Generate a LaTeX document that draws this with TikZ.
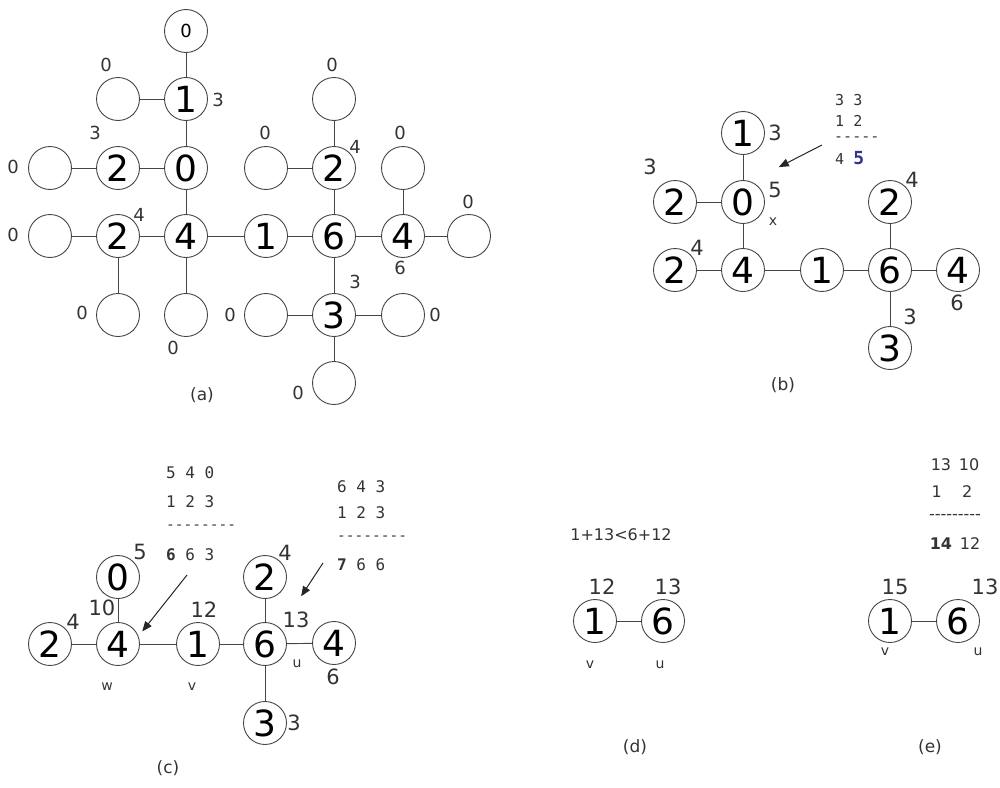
\documentclass[tikz,border=0pt]{standalone}
\usepackage{fontspec}
\setmainfont{DejaVu Sans}
\setmonofont{DejaVu Sans Mono}
\usetikzlibrary{arrows.meta}
\definecolor{edgegray}{RGB}{70,70,70}
\definecolor{calcblue}{RGB}{50,50,140}
\tikzset{
  nd/.style={circle,draw=edgegray,line width=0.9pt,minimum size=43pt,inner sep=0pt,
     font=\fontsize{36}{36}\selectfont},
  sm/.style={circle,draw=edgegray,line width=0.9pt,minimum size=43pt,inner sep=0pt,
     font=\fontsize{18}{18}\selectfont},
  ed/.style={draw=edgegray,line width=0.9pt},
  lbl/.style={inner sep=0pt,text=black!80,font=\fontsize{18}{18}\selectfont},
  lblb/.style={inner sep=0pt,text=black!80,font=\fontsize{21}{21}\selectfont},
  tiny/.style={inner sep=0pt,text=black!80,font=\fontsize{14}{14}\selectfont},
  captxt/.style={inner sep=0pt,text=black!80,font=\fontsize{17}{17}\selectfont},
  calc/.style={inner sep=0pt,anchor=west,text=black!80,font=\ttfamily\fontsize{16}{16}\selectfont},
  calcs/.style={inner sep=0pt,text=black!80,font=\fontsize{16}{16}\selectfont},
  arr/.style={draw=black!85,line width=1pt,-{Triangle[length=10pt,width=8pt]},shorten >=2pt}
}
\begin{document}
\begin{tikzpicture}[x=1pt,y=-1pt]
\useasboundingbox (0,0) rectangle (1000,787);
% ---------------- (a)
\node[sm] (a0t) at (186,31) {0};
\node[nd] (a1) at (186,99) {1};
\node[sm] (ae1) at (118,99) {};
\node[nd] (a0) at (186,168) {0};
\node[nd] (a2a) at (118,168) {2};
\node[sm] (ae2) at (50,168) {};
\node[nd] (a4) at (186,236) {4};
\node[nd] (a2b) at (118,236) {2};
\node[sm] (ae3) at (50,236) {};
\node[sm] (ae4) at (118,315) {};
\node[sm] (ae5) at (186,315) {};
\node[nd] (a1c) at (266,236) {1};
\node[nd] (a6) at (334,236) {6};
\node[nd] (a2c) at (334,168) {2};
\node[sm] (ae6) at (334,99) {};
\node[sm] (ae7) at (266,168) {};
\node[nd] (a4r) at (403,236) {4};
\node[sm] (ae8) at (403,168) {};
\node[sm] (ae9) at (469,236) {};
\node[nd] (a3) at (334,315) {3};
\node[sm] (ae10) at (266,315) {};
\node[sm] (ae11) at (403,315) {};
\node[sm] (ae12) at (334,383) {};
\foreach \u/\v in {a0t/a1,ae1/a1,a1/a0,ae2/a2a,a2a/a0,a0/a4,ae3/a2b,a2b/a4,a2b/ae4,a4/ae5,
  a4/a1c,a1c/a6,a6/a2c,a2c/ae6,ae7/a2c,a6/a4r,a4r/ae8,a4r/ae9,a6/a3,ae10/a3,a3/ae11,a3/ae12}
  \draw[ed] (\u) -- (\v);
\node[lbl] (la1) at (106,65) {0};
\node[lbl] (la2) at (218,100) {3};
\node[lbl] (la3) at (95,133) {3};
\node[lbl] (la4) at (13,167) {0};
\node[lbl] (la5) at (265,133) {0};
\node[lbl] (la6) at (332,65) {0};
\node[lbl] (la7) at (355,147) {4};
\node[lbl] (la8) at (400,133) {0};
\node[lbl] (la9) at (468,202) {0};
\node[lbl] (la10) at (139,215) {4};
\node[lbl] (la11) at (13,235) {0};
\node[lbl] (la12) at (400,268) {6};
\node[lbl] (la13) at (355,282) {3};
\node[lbl] (la14) at (82,313) {0};
\node[lbl] (la15) at (173,348) {0};
\node[lbl] (la16) at (230,315) {0};
\node[lbl] (la17) at (435,315) {0};
\node[lbl] (la18) at (298,393) {0};
\node[captxt] (capa) at (202,395) {(a)};
% ---------------- (b)
\node[nd] (b1) at (743,133) {1};
\node[nd] (b0) at (743,202) {0};
\node[nd] (b2a) at (675,202) {2};
\node[nd] (b4) at (743,270) {4};
\node[nd] (b2b) at (675,270) {2};
\node[nd] (b1c) at (822,270) {1};
\node[nd] (b6) at (890,270) {6};
\node[nd] (b2c) at (890,202) {2};
\node[nd] (b4r) at (958,270) {4};
\node[nd] (b3) at (890,348) {3};
\foreach \u/\v in {b1/b0,b2a/b0,b0/b4,b2b/b4,b4/b1c,b1c/b6,b6/b2c,b6/b4r,b6/b3}
  \draw[ed] (\u) -- (\v);
\node[lblb] (lb1) at (775,133) {3};
\node[lblb] (lb2) at (650,167) {3};
\node[lblb] (lb3) at (775,190) {5};
\node[tiny] (lbx) at (773,222) {x};
\node[lblb] (lb4) at (697,248) {4};
\node[lblb] (lb5) at (912,180) {4};
\node[lblb] (lb6) at (957,303) {6};
\node[lblb] (lb7) at (910,317) {3};
\node[captxt] (capb) at (783,385) {(b)};
\node[calc,font=\ttfamily\fontsize{15}{15}\selectfont] (bc1) at (835,100) {3 3};
\node[calc,font=\ttfamily\fontsize{15}{15}\selectfont] (bc2) at (835,121) {1 2};
\node[calc,font=\ttfamily\fontsize{15}{15}\selectfont] (bc3) at (834,139) {-----};
\node[calc,font=\ttfamily\fontsize{15}{15}\selectfont] (bc4) at (835,158) {4 \textcolor{calcblue}{\fontsize{18}{18}\selectfont\bfseries 5}};
\coordinate (bas) at (822,145);
\coordinate (bae) at (777,168);
\draw[arr] (bas) -- (bae);
% ---------------- (c)
\node[nd] (c0) at (118,577) {0};
\node[nd] (c4) at (118,644) {4};
\node[nd] (c2a) at (50,644) {2};
\node[nd] (c1) at (198,644) {1};
\node[nd] (c6) at (265,644) {6};
\node[nd] (c2b) at (265,577) {2};
\node[nd] (c3) at (265,723) {3};
\node[nd] (c4r) at (334,643) {4};
\foreach \u/\v in {c0/c4,c2a/c4,c4/c1,c1/c6,c6/c2b,c6/c3,c6/c4r}
  \draw[ed] (\u) -- (\v);
\node[lblb] (lc1) at (140,552) {5};
\node[lblb] (lc2) at (102,608) {10};
\node[lblb] (lc3) at (73,622) {4};
\node[lblb] (lc4) at (204,610) {12};
\node[lblb] (lc5) at (285,553) {4};
\node[lblb] (lc6) at (296,620) {13};
\node[tiny] (lcu) at (297,664) {u};
\node[lblb] (lc7) at (333,677) {6};
\node[lblb] (lc8) at (294,723) {3};
\node[tiny] (lcw) at (107,687) {w};
\node[tiny] (lcv) at (192,687) {v};
\node[captxt] (capc) at (168,768) {(c)};
\node[calc] (cc1) at (166,473) {5 4 0};
\node[calc] (cc2) at (166,502) {1 2 3};
\node[calc,font=\ttfamily\fontsize{14.5}{14.5}\selectfont] (cc3) at (166,527) {--------};
\node[calc] (cc4) at (166,555) {\textbf{6} 6 3};
\coordinate (cas) at (187,575);
\coordinate (cae) at (141,633);
\draw[arr] (cas) -- (cae);
\node[calc] (cd1) at (337,487) {6 4 3};
\node[calc] (cd2) at (337,513) {1 2 3};
\node[calc,font=\ttfamily\fontsize{14.5}{14.5}\selectfont] (cd3) at (337,538) {--------};
\node[calc] (cd4) at (337,565) {\textbf{7} 6 6};
\coordinate (cbs) at (323,563);
\coordinate (cbe) at (300,598);
\draw[arr] (cbs) -- (cbe);
% ---------------- (d)
\node[calcs] (dtx) at (621,535) {1+13<6+12};
\node[nd] (d1) at (595,621) {1};
\node[nd] (d6) at (663,621) {6};
\draw[ed] (d1) -- (d6);
\node[lblb] (ld1) at (602,587) {12};
\node[lblb] (ld2) at (668,587) {13};
\node[tiny] (ldv) at (590,665) {v};
\node[tiny] (ldu) at (660,665) {u};
\node[captxt] (capd) at (635,747) {(d)};
% ---------------- (e)
\node[nd] (e1) at (890,621) {1};
\node[nd] (e6) at (958,621) {6};
\draw[ed] (e1) -- (e6);
\node[lblb] (le1) at (895,587) {15};
\node[lblb] (le2) at (985,587) {13};
\node[tiny] (lev) at (885,652) {v};
\node[tiny] (leu) at (978,652) {u};
\node[captxt] (cape) at (930,747) {(e)};
\node[calcs] (ec1) at (955,465) {13 \,10};
\node[calcs] (ec2) at (952,492) {1 \ \ \ 2};
\node[calcs] (ec3) at (955,517) {-{}-{}-{}-{}-{}-{}-{}-{}-};
\node[calcs] (ec4) at (955,544) {\textbf{14} \,12};
\end{tikzpicture}
\end{document}
